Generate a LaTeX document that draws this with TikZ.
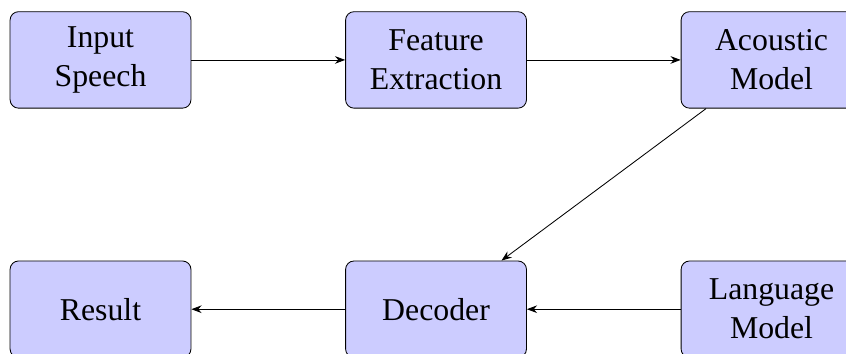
\documentclass[tikz,border=0pt]{standalone}
\usepackage{fontspec}
\setmainfont{Liberation Serif}
\usepackage{tikz}
\usetikzlibrary{arrows.meta,positioning}

\begin{document}
\begin{tikzpicture}[>=Stealth,
  block/.style={draw,rectangle,rounded corners,fill=blue!20,align=center,
    minimum width=3cm,minimum height=1.6cm,font=\fontsize{15}{18.4}\selectfont},
  node distance=2.52cm and 2.55cm]
  \useasboundingbox (0,0) rectangle (14.03,5.87);
  \node[block] (input) at (1.667,4.876) {Input\\Speech};
  \node[block,right=of input] (feature) {Feature\\Extraction};
  \node[block,right=of feature] (acoustic) {Acoustic\\Model};
  \node[block,below=of input] (result) {Result};
  \node[block,below=of feature] (decoder) {Decoder};
  \node[block,below=of acoustic] (language) {Language\\Model};
  \draw[->] (input) -- (feature);
  \draw[->] (feature) -- (acoustic);
  \draw[->] (acoustic) -- (decoder);
  \draw[->] (language) -- (decoder);
  \draw[->] (decoder) -- (result);
\end{tikzpicture}
\end{document}
